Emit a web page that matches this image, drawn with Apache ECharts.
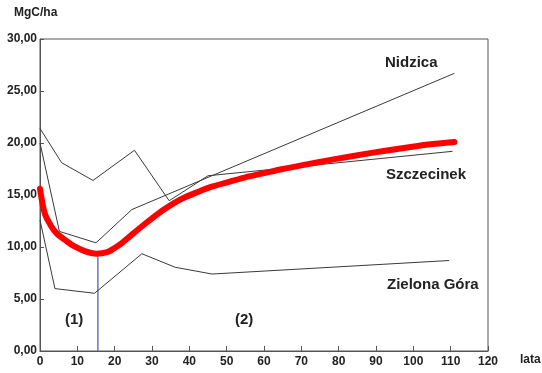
<!DOCTYPE html>
<html>
<head>
<meta charset="utf-8">
<script src="https://cdn.jsdelivr.net/npm/echarts@6/dist/echarts.min.js"></script>
<style>html,body{margin:0;padding:0;background:#fff;}#c{width:542px;height:373px;}</style>
</head>
<body>
<div id="c"></div>
<script>
// x = lata (years), y = MgC/ha
const xTicks = [0, 10, 20, 30, 40, 50, 60, 70, 80, 90, 100, 110, 120];
const yTicks = [0, 5, 10, 15, 20, 25, 30];

const nidzicaX = [0, 5.2, 15, 24.6, 111];
const nidzicaY = [20.0, 11.5, 10.4, 13.6, 26.7];

const szczecinekX = [0, 5.8, 14.2, 25.3, 34.6, 45, 110.5];
const szczecinekY = [21.4, 18.1, 16.4, 19.3, 14.45, 16.85, 19.2];

const zielonaX = [0, 4.0, 14.6, 27.3, 36.2, 46.1, 109.6];
const zielonaY = [12.6, 6.0, 5.55, 9.35, 8.05, 7.4, 8.7];

const meanX = [0, 1.3, 3, 4.5, 7, 9, 12, 15, 18, 20, 22, 24, 27, 30, 33, 36, 39, 42, 46, 51, 55, 60, 65, 70, 79, 88, 97, 104, 111];
const meanY = [15.6, 13.2, 12.0, 11.3, 10.6, 10.1, 9.6, 9.35, 9.5, 9.9, 10.4, 11.0, 11.9, 12.75, 13.55, 14.25, 14.8, 15.25, 15.8, 16.3, 16.7, 17.1, 17.5, 17.85, 18.45, 19.0, 19.5, 19.85, 20.1];

const boundaryX = [15.5, 15.5];
const boundaryY = [0, 9.3];

const pairs = (xs, ys) => xs.map((x, i) => [x, ys[i]]);

const chart = echarts.init(document.getElementById('c'));
const FONT = '"Liberation Sans", Arial, sans-serif';
const thin = (name, xs, ys) => ({
  name, type: 'line', data: pairs(xs, ys), symbol: 'none',
  lineStyle: { color: '#3a3a3a', width: 1 }, silent: true, z: 3
});

chart.setOption({
  animation: false,
  backgroundColor: '#fff',
  grid: { left: 40, right: 54, top: 39, bottom: 22, show: true, borderColor: '#555', borderWidth: 1, backgroundColor: 'transparent' },
  xAxis: {
    type: 'value', min: xTicks[0], max: xTicks[xTicks.length - 1], interval: 10,
    axisLine: { lineStyle: { color: '#555', width: 1 } },
    axisTick: { inside: true, length: 5, lineStyle: { color: '#555' } },
    splitLine: { show: false },
    axisLabel: { fontFamily: FONT, fontWeight: 'bold', fontSize: 12, color: '#222', margin: 5 }
  },
  yAxis: {
    type: 'value', min: yTicks[0], max: yTicks[yTicks.length - 1], interval: 5,
    axisLine: { show: true, lineStyle: { color: '#555', width: 1 } },
    axisTick: { show: true, inside: true, length: 4, lineStyle: { color: '#555' } },
    splitLine: { show: false },
    axisLabel: { fontFamily: FONT, fontWeight: 'bold', fontSize: 12, color: '#222', margin: 3,
      formatter: v => v.toFixed(2).replace('.', ',') }
  },
  series: [
    thin('Nidzica', nidzicaX, nidzicaY),
    thin('Szczecinek', szczecinekX, szczecinekY),
    thin('Zielona Góra', zielonaX, zielonaY),
    { name: 'granica', type: 'line', data: pairs(boundaryX, boundaryY), symbol: 'none',
      lineStyle: { color: '#7b7bbd', width: 1.6 }, z: 2 },
    { name: 'średnia', type: 'line', data: pairs(meanX, meanY), symbol: 'none', smooth: 0.3,
      lineStyle: { color: '#ff0000', width: 6, cap: 'round' }, z: 4 }
  ],
  graphic: [
    { type: 'text', left: 14, top: 7, style: { text: 'MgC/ha', font: 'bold 12px ' + FONT, fill: '#222' } },
    { type: 'text', left: 520, top: 354, style: { text: 'lata', font: 'bold 12px ' + FONT, fill: '#222' } },
    { type: 'text', left: 385, top: 55, style: { text: 'Nidzica', font: 'bold 15px ' + FONT, fill: '#222' } },
    { type: 'text', left: 386, top: 167, style: { text: 'Szczecinek', font: 'bold 15px ' + FONT, fill: '#222' } },
    { type: 'text', left: 387, top: 277, style: { text: 'Zielona Góra', font: 'bold 15px ' + FONT, fill: '#222' } },
    { type: 'text', left: 65, top: 312, style: { text: '(1)', font: 'bold 15px ' + FONT, fill: '#222' } },
    { type: 'text', left: 235, top: 312, style: { text: '(2)', font: 'bold 15px ' + FONT, fill: '#222' } }
  ]
});
</script>
</body>
</html>
